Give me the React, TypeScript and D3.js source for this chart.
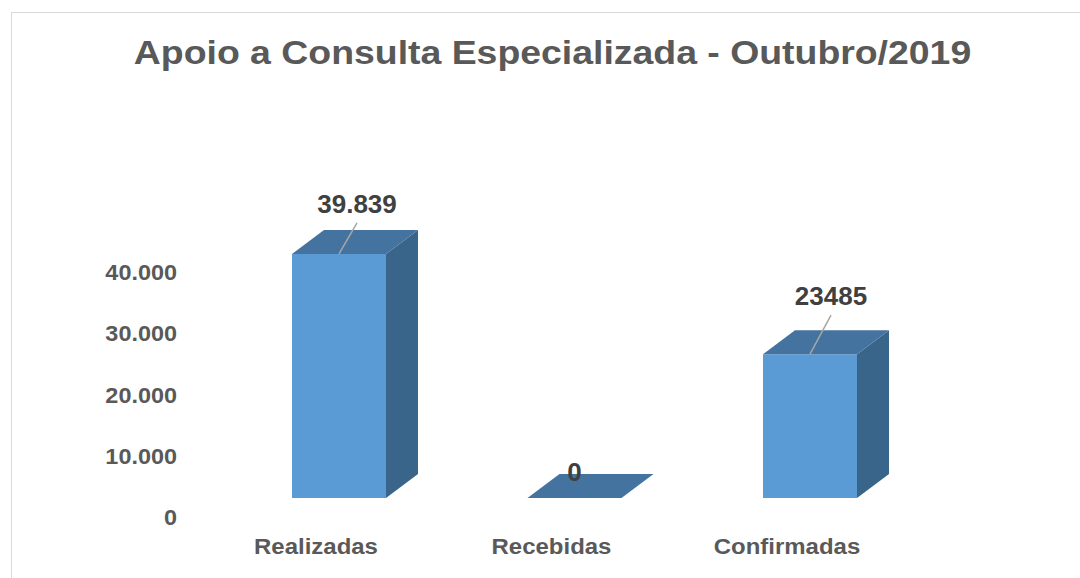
import React from "react";
import * as d3 from "d3";

const categories = ["Realizadas", "Recebidas", "Confirmadas"];
const values = [39839, 0, 23485];
const valueLabels = ["39.839", "0", "23485"];
const yTicks = [0, 10000, 20000, 30000, 40000];
const yTickLabels = ["0", "10.000", "20.000", "30.000", "40.000"];
const title = "Apoio a Consulta Especializada - Outubro/2019";

// layout only
const labelNudge = [
  { dx: 18, dy: -41 },
  { dx: 0, dy: -17 },
  { dx: 21, dy: -49 },
];

const W = 1080;
const H = 578;
const DEPTH_X = 32;
const DEPTH_Y = -24;
const BAR_W = 94;
const STRETCH = 1.09;
const FONT = "'Liberation Sans', Arial, sans-serif";

function SText({ x, y, size, fill, anchor = "middle", sx = STRETCH, children }: any) {
  return (
    <text
      transform={`translate(${x},${y}) scale(${sx},1)`}
      fontFamily={FONT}
      fontWeight="bold"
      fontSize={size}
      fill={fill}
      textAnchor={anchor}
    >
      {children}
    </text>
  );
}

export default function App() {
  const y = d3.scaleLinear().domain([0, 40000]).range([498, 253]);
  const x = d3.scalePoint<string>().domain(categories).range([339, 810]);

  return (
    <svg
      width={W}
      height={H}
      style={{ position: "absolute", left: 0, top: 0, background: "#fff" }}
    >
      <rect x={0} y={0} width={W} height={H} fill="#fff" />
      <rect x={11.5} y={12.5} width={1200} height={700} fill="none" stroke="#d9d9d9" strokeWidth={1} />
      <SText x={552.5} y={64} size={34} fill="#595959" sx={1.1}>{title}</SText>

      {yTicks.map((t, i) => (
        <SText key={t} x={177} y={y(t) + 27} size={21.5} fill="#595959" anchor="end">
          {yTickLabels[i]}
        </SText>
      ))}

      {categories.map((c, i) => {
        const cx = x(c)!;
        const x0 = cx - BAR_W / 2;
        const x1 = cx + BAR_W / 2;
        const yb = y(0);
        const yt = y(values[i]);
        const front = `M${x0},${yb}L${x1},${yb}L${x1},${yt}L${x0},${yt}Z`;
        const top = `M${x0},${yt}L${x1},${yt}L${x1 + DEPTH_X},${yt + DEPTH_Y}L${x0 + DEPTH_X},${yt + DEPTH_Y}Z`;
        const side = `M${x1},${yb}L${x1 + DEPTH_X},${yb + DEPTH_Y}L${x1 + DEPTH_X},${yt + DEPTH_Y}L${x1},${yt}Z`;
        const n = labelNudge[i];
        const lx = cx + n.dx;
        const ly = yt + n.dy;
        return (
          <g key={c}>
            {values[i] > 0 && <path d={side} fill="#386589" />}
            {values[i] > 0 && <path d={front} fill="#5b9bd5" />}
            <path d={top} fill="#44739f" />
            {values[i] > 0 && (
              <line x1={lx} y1={ly + 10} x2={cx} y2={yt} stroke="#a6a6a6" strokeWidth={1.5} />
            )}
            <SText x={lx} y={ly} size={25} fill="#404040" sx={1.04}>{valueLabels[i]}</SText>
            <SText x={cx - 23} y={554} size={22} fill="#595959">{c}</SText>
          </g>
        );
      })}
    </svg>
  );
}
